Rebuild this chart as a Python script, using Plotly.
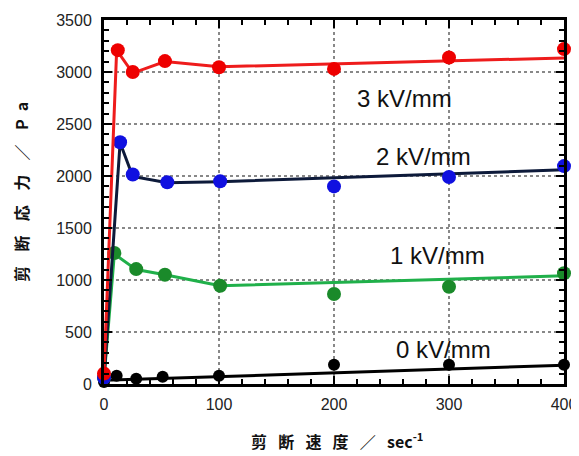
import plotly.graph_objects as go

# measured data points (markers)
x_red = [0, 12, 25, 53, 100, 200, 300, 400]
red_pts = [100, 3210, 3000, 3105, 3045, 3030, 3140, 3220]
x_blue = [0, 14, 25, 55, 101, 200, 300, 400]
blue_pts = [60, 2325, 2015, 1940, 1950, 1900, 1990, 2095]
x_green = [0, 9, 28, 53, 101, 200, 300, 400]
green_pts = [60, 1260, 1105, 1050, 945, 865, 935, 1065]
x_black = [0, 11, 28, 51, 100, 200, 300, 400]
black_pts = [20, 80, 50, 70, 80, 185, 185, 185]

# fitted curves
red_fit_x = [0, 11, 25, 53, 100, 400]
red_fit_y = [100, 3210, 2990, 3100, 3050, 3135]
blue_fit_x = [0, 14, 25, 55, 101, 400]
blue_fit_y = [40, 2320, 1995, 1935, 1945, 2060]
green_fit_x = [0, 9, 28, 53, 101, 400]
green_fit_y = [50, 1250, 1100, 1050, 945, 1040]
black_fit_x = [0, 400]
black_fit_y = [35, 180]

labels = ["3 kV/mm", "2 kV/mm", "1 kV/mm", "0 kV/mm"]
label_x = [261, 278, 290, 295]
label_y = [2750, 2183, 1240, 327]

x_ticks = [0, 100, 200, 300, 400]
y_ticks = [0, 500, 1000, 1500, 2000, 2500, 3000, 3500]

# page body has an 8px margin; compensate so plot area lands at x 104..564, y 20..384
OFF = 8
W, H = 579 - OFF, 456 - OFF
L, R, T, B = 104 - OFF, 15, 20 - OFF, 72
PW, PH = W - L - R, H - T - B

fig = go.Figure()

series = [
    (red_fit_x, red_fit_y, "#ee1c1c", x_red, red_pts, "#ee0000", 14),
    (blue_fit_x, blue_fit_y, "#0d1a3a", x_blue, blue_pts, "#1010e0", 14),
    (green_fit_x, green_fit_y, "#20b04a", x_green, green_pts, "#1a8a2a", 14),
    (black_fit_x, black_fit_y, "#000000", x_black, black_pts, "#000000", 12),
]
for fx, fy, lc, px, py, mc, ms in reversed(series):
    fig.add_trace(go.Scatter(x=fx, y=fy, mode="lines",
                             line=dict(color=lc, width=3), cliponaxis=False,
                             hoverinfo="skip"))
    fig.add_trace(go.Scatter(x=px, y=py, mode="markers",
                             marker=dict(color=mc, size=ms), cliponaxis=False))

for t, lx, ly in zip(labels, label_x, label_y):
    fig.add_annotation(x=lx, y=ly, text=t, showarrow=False, xanchor="center",
                       yanchor="middle",
                       font=dict(family="Liberation Sans, Arial", size=24, color="#111"))

sp = "\u2002\u2009"
fig.add_annotation(xref="paper", yref="paper", x=(337 - 104) / PW, y=-(441 - 384) / PH,
                   text="<b>" + sp.join(["剪", "断", "速", "度", "／"]) + sp + "sec<sup>-1</sup></b>",
                   showarrow=False, xanchor="center", yanchor="middle",
                   font=dict(family="Noto Sans CJK JP", size=16, color="#111"))
sp2 = "\u2002\u2009\u2009"
fig.add_annotation(xref="paper", yref="paper", x=-(104 - 21) / PW, y=(384 - 192) / PH,
                   text="<b>" + sp2.join(["剪", "断", "応", "力", "／", "P"]) + "\u2002a</b>",
                   showarrow=False, textangle=-90, xanchor="center", yanchor="middle",
                   font=dict(family="Noto Sans CJK JP", size=16, color="#111"))

axis_common = dict(showline=True, linecolor="black", linewidth=3, mirror="ticks",
                   ticks="inside", ticklen=8, tickwidth=2, tickcolor="black",
                   showgrid=True, gridcolor="#888", griddash="dot", gridwidth=1.5,
                   zeroline=False, automargin=False,
                   tickfont=dict(family="Liberation Sans, Arial", size=16, color="#222"))

fig.update_xaxes(range=[0, 400], tickvals=x_ticks, ticklabelstandoff=4,
                 minor=dict(dtick=20, ticks="inside", ticklen=5, tickwidth=1.5, tickcolor="black", showgrid=False),
                 **axis_common)
fig.update_yaxes(range=[0, 3500], tickvals=y_ticks, ticklabelstandoff=6,
                 minor=dict(dtick=100, ticks="inside", ticklen=5, tickwidth=1.5, tickcolor="black", showgrid=False),
                 **axis_common)

fig.update_layout(width=W, height=H, showlegend=False,
                  margin=dict(l=L, r=R, t=T, b=B),
                  plot_bgcolor="white", paper_bgcolor="white")

fig.write_html("out.html")
